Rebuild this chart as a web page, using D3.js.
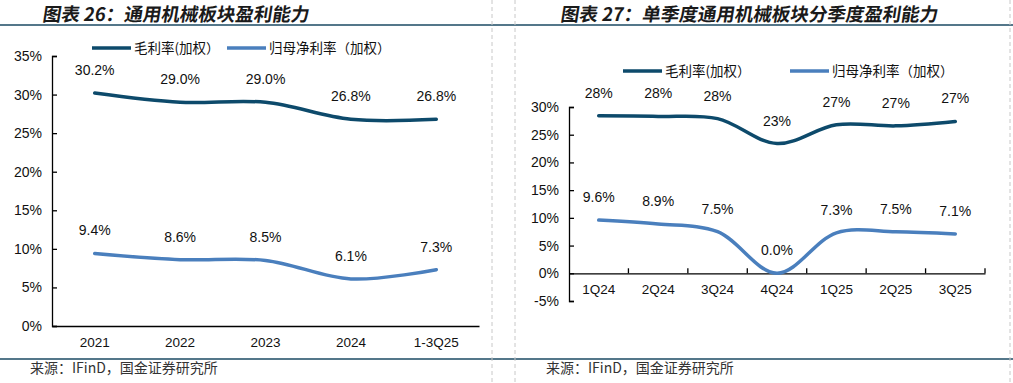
<!DOCTYPE html>
<html><head><meta charset="utf-8">
<script src="https://cdn.jsdelivr.net/npm/d3@7"></script>
<style>
body{margin:0;background:#fff;}
svg{display:block;font-family:Arial,"Liberation Sans","Noto Sans CJK SC",sans-serif;}
</style></head><body>
<svg id="c" width="1013" height="383"></svg>
<script>
// ---- data ----
const yearCats = ["2021","2022","2023","2024","1-3Q25"];
const yearGross = [30.2, 29.0, 29.0, 26.8, 26.8];
const yearNet = [9.4, 8.6, 8.5, 6.1, 7.3];
const yearTicks = [0,5,10,15,20,25,30,35];

const qCats = ["1Q24","2Q24","3Q24","4Q24","1Q25","2Q25","3Q25"];
const qGross = [28.4, 28.3, 27.9, 23.4, 26.8, 26.6, 27.4];
const qNet = [9.6, 8.9, 7.5, 0.0, 7.3, 7.5, 7.1];
const qTicks = [-5,0,5,10,15,20,25,30];

const seriesNames = ["毛利率(加权）", "归母净利率（加权）"];
const titles = ["图表 26：通用机械板块盈利能力", "图表 27：单季度通用机械板块分季度盈利能力"];
const source = "来源：IFinD，国金证券研究所";

const C_DARK = "#0d4a6b", C_LIGHT = "#4a7fbd", C_RULE = "#1b4a63";
const svg = d3.select("#c");

// frame rules
svg.append("line").attr("x1",0).attr("x2",1013).attr("y1",25).attr("y2",25).attr("stroke",C_RULE).attr("stroke-width",1.3);
svg.append("line").attr("x1",0).attr("x2",1013).attr("y1",359).attr("y2",359).attr("stroke",C_RULE).attr("stroke-width",1.3);
[492,515,1010].forEach(x=>svg.append("line").attr("x1",x).attr("x2",x).attr("y1",0).attr("y2",383)
  .attr("stroke","#c8c8c8").attr("stroke-dasharray","4,3").attr("stroke-width",1));

// titles
[[42,titles[0]],[560,titles[1]]].forEach(([x,t])=>svg.append("text").attr("x",x).attr("y",20.5)
  .attr("font-family","'Noto Sans CJK SC',sans-serif").attr("font-weight","bold")
  .attr("font-size",18.5).attr("fill","#1a1a1a").attr("transform",`translate(${20*0.16},0) skewX(-9)`).text(t));
// sources
[[30],[546]].forEach(([x])=>svg.append("text").attr("x",x).attr("y",373)
  .attr("font-family","'Noto Sans CJK SC',sans-serif").attr("font-size",14).attr("fill","#333").text(source));

function legend(g, x1, x2){
  [[x1,C_DARK,seriesNames[0]],[x2,C_LIGHT,seriesNames[1]]].forEach(([x,c,t])=>{
    g.append("line").attr("x1",x).attr("x2",x+39).attr("y1",0).attr("y2",0).attr("stroke",c).attr("stroke-width",3.5);
    g.append("text").attr("x",x+42).attr("y",5).attr("font-size",13.5)
      .attr("font-family","'Noto Sans CJK SC',sans-serif").attr("fill","#111").text(t);
  });
}

function chart(opts){
  const {cats, gross, net, ticks, x0, x1, yTop, yBot, dom, grossFmt, tickMarks} = opts;
  const x = d3.scaleBand().domain(cats).range([x0,x1]).padding(0);
  const y = d3.scaleLinear().domain(dom).range([yBot,yTop]);
  const g = svg.append("g");
  // y axis
  const ya = g.append("g").attr("transform",`translate(${x0},0)`)
    .call(d3.axisLeft(y).tickValues(ticks).tickSize(-5).tickSizeOuter(-5).tickPadding(10).tickFormat(d=>d+"%"));
  ya.selectAll("text").attr("font-size",14).attr("fill","#111").attr("font-family","Arial,'Liberation Sans'");
  ya.select(".domain").attr("stroke","#000").attr("stroke-width",1.3);
  ya.selectAll(".tick line").attr("stroke","#000").attr("stroke-width",1.3);
  // x axis at 0
  const xa = g.append("g").attr("transform",`translate(0,${y(0)})`)
    .call(d3.axisBottom(x).tickSize(0).tickPadding(11));
  xa.selectAll("text").attr("font-size",13.5).attr("fill","#111").attr("font-family","Arial,'Liberation Sans'");
  xa.select(".domain").attr("stroke","#000").attr("stroke-width",1.3);
  if(tickMarks){
    cats.forEach((c,i)=>{
      const bx = x(c) + x.step();
      g.append("line").attr("x1",bx).attr("x2",bx).attr("y1",y(0)).attr("y2",y(0)-5).attr("stroke","#000").attr("stroke-width",1.3);
    });
  }
  const line = d3.line().x((d,i)=>x(cats[i])+x.bandwidth()/2).y(d=>y(d)).curve(d3.curveCatmullRom.alpha(0.5));
  [[gross,C_DARK,grossFmt],[net,C_LIGHT,d3.format(".1f")]].forEach(([vals,c,fmt])=>{
    g.append("path").datum(vals).attr("d",line).attr("fill","none").attr("stroke",c)
      .attr("stroke-width",3.5).attr("stroke-linecap","round");
    g.selectAll(null).data(vals).enter().append("text")
      .attr("x",(d,i)=>x(cats[i])+x.bandwidth()/2).attr("y",d=>y(d)-18)
      .attr("text-anchor","middle").attr("font-size",14).attr("fill","#111")
      .text(d=>fmt(d)+"%");
  });
  return g;
}

chart({cats:yearCats, gross:yearGross, net:yearNet, ticks:yearTicks, x0:52, x1:479, yTop:56, yBot:326,
  dom:[0,35], grossFmt:d3.format(".1f"), tickMarks:false});
chart({cats:qCats, gross:qGross, net:qNet, ticks:qTicks, x0:569, x1:985, yTop:107, yBot:301,
  dom:[-5,30], grossFmt:d3.format(".0f"), tickMarks:true});

legend(svg.append("g").attr("transform","translate(0,48)"), 92, 227);
legend(svg.append("g").attr("transform","translate(0,71)"), 623, 790);
</script>
</body></html>
